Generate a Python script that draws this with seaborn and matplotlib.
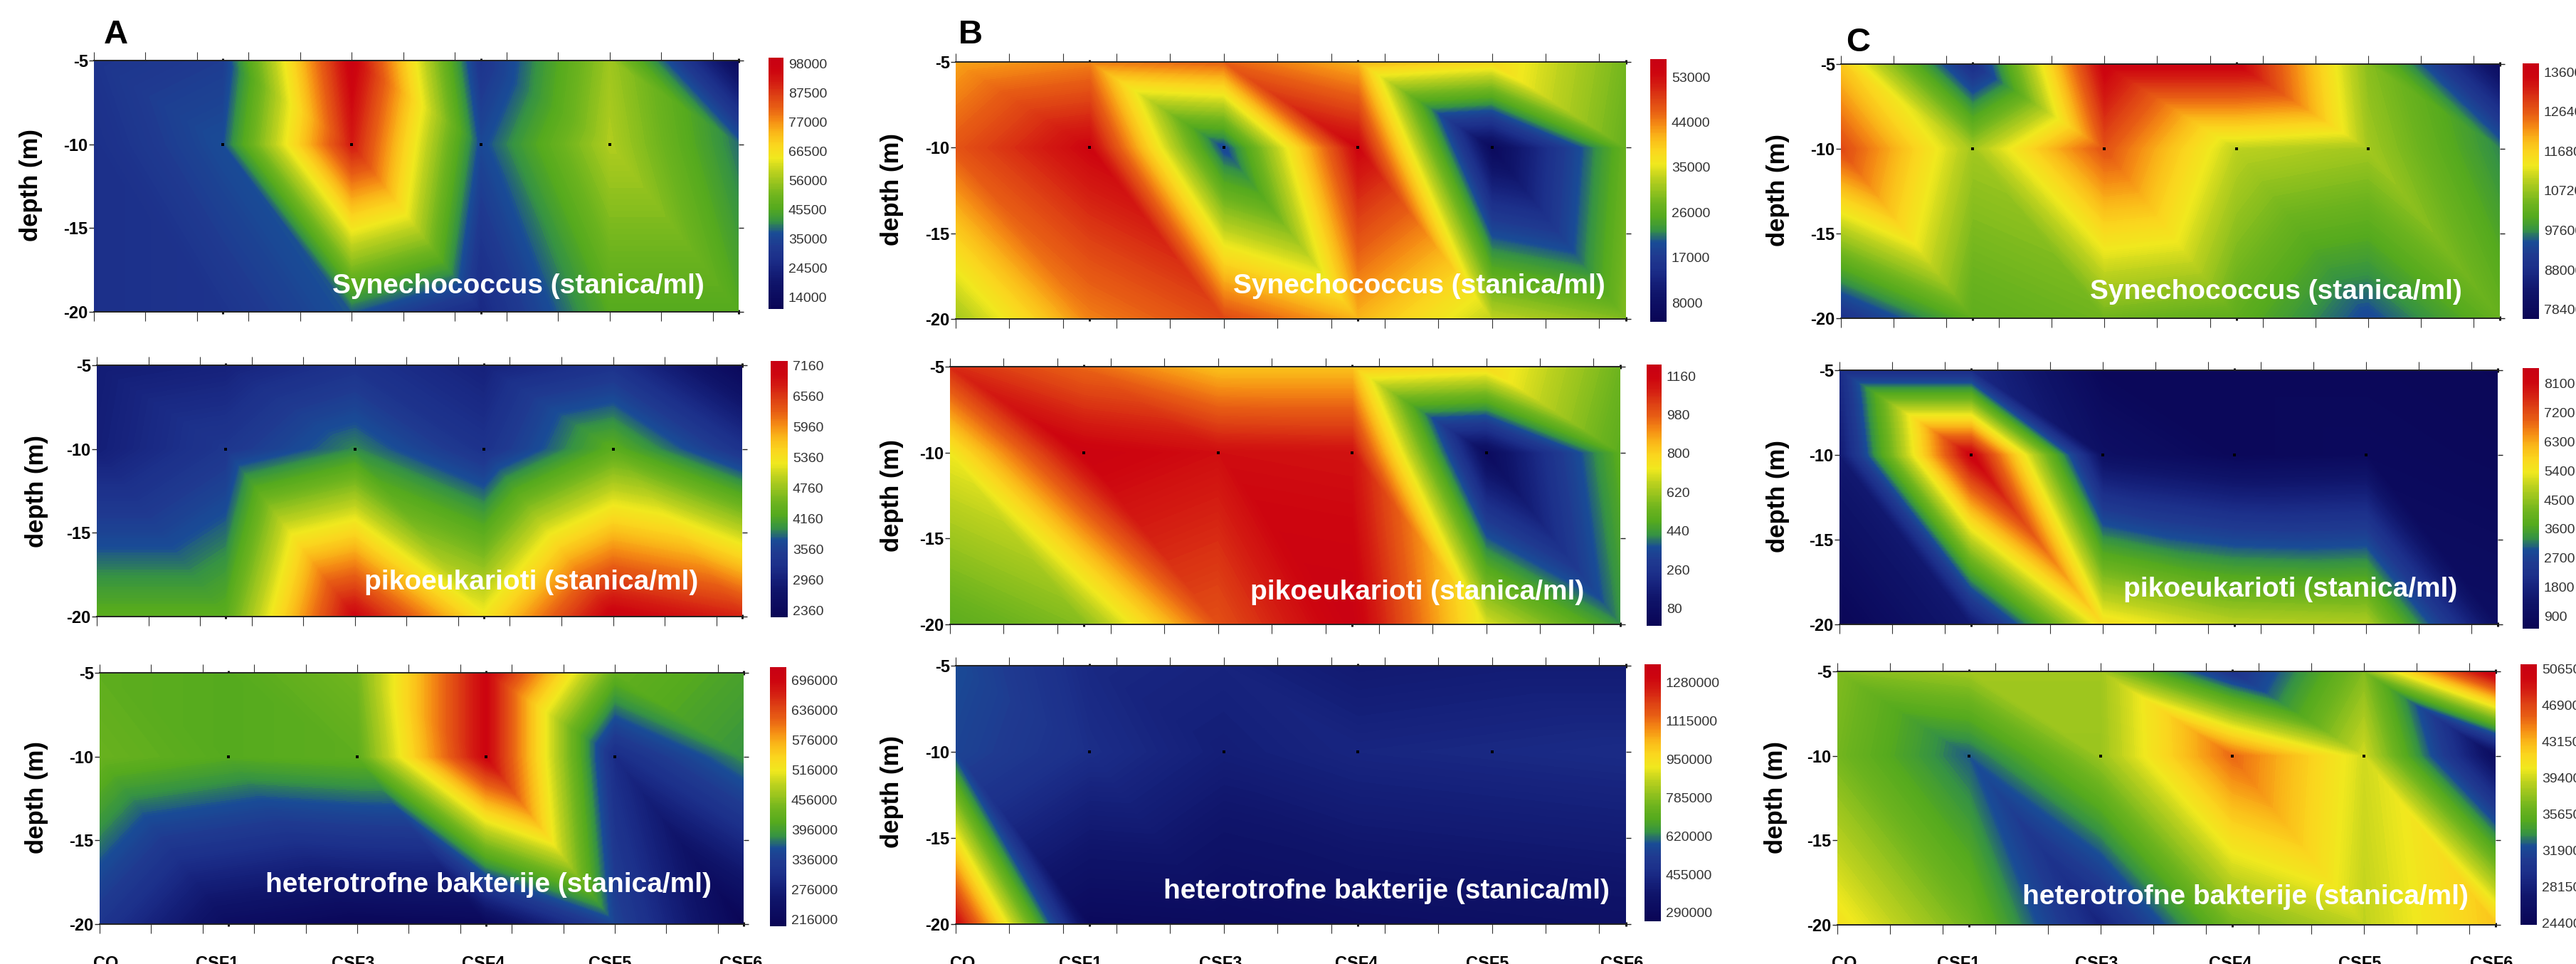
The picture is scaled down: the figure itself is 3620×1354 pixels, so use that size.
import numpy as np
import seaborn as sns
import matplotlib
matplotlib.use("Agg")
import matplotlib.pyplot as plt
from matplotlib.tri import Triangulation

W, H = 3620, 1354

stations = [0, 1, 2, 3, 4, 5]
station_names = ["CO", "CSF1", "CSF3", "CSF4", "CSF5", "CSF6"]
depths = [-5, -10, -20]
depth_ticks = [-5, -10, -15, -20]
sample_x = [1, 2, 3, 4]
sample_depth = [-10, -10, -10, -10]

titles = ["Synechococcus (stanica/ml)", "pikoeukarioti (stanica/ml)",
          "heterotrofne bakterije (stanica/ml)"]

# rows are depths -5, -10, -20, columns are the stations
a_syn = [[30000, 33000, 98000, 30000, 56000, 13000],
         [28000, 37000, 92000, 36000, 58000, 39000],
         [28000, 30000, 38000, 26000, 46000, 46000]]
a_pik = [[2900, 3000, 3300, 3000, 3300, 2350],
         [2950, 3400, 3950, 3300, 4300, 3300],
         [4300, 4300, 7000, 5300, 7100, 6700]]
a_het = [[420000, 410000, 440000, 700000, 425000, 400000],
         [430000, 410000, 420000, 700000, 300000, 385000],
         [320000, 230000, 210000, 215000, 345000, 205000]]

b_syn = [[42000, 44000, 46000, 41000, 38000, 28000],
         [47000, 54000, 19000, 54000, 6000, 27000],
         [31000, 44000, 48000, 41000, 33000, 29000]]
b_pik = [[1070, 960, 830, 830, 780, 540],
         [730, 1170, 1130, 1120, 50, 500],
         [500, 580, 1000, 1190, 700, 420]]
b_het = [[580000, 450000, 430000, 390000, 400000, 400000],
         [560000, 470000, 410000, 440000, 450000, 460000],
         [1300000, 290000, 300000, 320000, 330000, 340000]]

c_syn = [[118000, 88000, 136000, 136000, 106000, 79000],
         [128000, 108000, 127000, 110000, 108000, 97000],
         [89000, 102000, 104000, 102000, 94000, 103000]]
c_pik = [[2000, 2000, 700, 700, 700, 650],
         [1500, 8300, 1100, 700, 800, 700],
         [600, 1500, 5600, 4900, 4800, 1000]]
c_het = [[370000, 380000, 380000, 300000, 370000, 511000],
         [365000, 325000, 378000, 455000, 395000, 255000],
         [410000, 365000, 285000, 365000, 390000, 425000]]

a_syn_ticks = [14000, 24500, 35000, 45500, 56000, 66500, 77000, 87500, 98000]
a_pik_ticks = [2360, 2960, 3560, 4160, 4760, 5360, 5960, 6560, 7160]
a_het_ticks = [216000, 276000, 336000, 396000, 456000, 516000, 576000, 636000, 696000]
b_syn_ticks = [8000, 17000, 26000, 35000, 44000, 53000]
b_pik_ticks = [80, 260, 440, 620, 800, 980, 1160]
b_het_ticks = [290000, 455000, 620000, 785000, 950000, 1115000, 1280000]
c_syn_ticks = [78400, 88000, 97600, 107200, 116800, 126400, 136000]
c_pik_ticks = [900, 1800, 2700, 3600, 4500, 5400, 6300, 7200, 8100]
c_het_ticks = [244000, 281500, 319000, 356500, 394000, 431500, 469000, 506500]

# colorbar ends, they run a bit past the outer tick labels
a_range = [(9900, 100300), (2230, 7244), (201700, 723000)]
b_range = [(4170, 56550), (0, 1213), (253000, 1358000)]
c_range = [(76100, 138100), (510, 8580), (242000, 511400)]

ramp = ["#0a0555", "#0c0c60", "#0f1469", "#15207a", "#1c2f8a", "#1f3a90", "#194b96",
        "#379441", "#55aa1e", "#6eb41e", "#96c31e", "#bed21e", "#f0e81e", "#fad71e",
        "#fab919", "#f58c14", "#e85f14", "#de4114", "#d41e12", "#cd050f", "#c80014"]

sns.set_theme(style="white")
plt.rcParams["font.family"] = ["Liberation Sans", "DejaVu Sans"]
cmap = sns.blend_palette(ramp, n_colors=256, as_cmap=True)


def px_axes(fig, x0, y0, x1, y1):
    return fig.add_axes([x0 / W, 1 - y1 / H, (x1 - x0) / W, (y1 - y0) / H])


def px_text(fig, x, y, s, **kw):
    fig.text(x / W, 1 - y / H, s, **kw)


def make_mesh():
    # every cell is split along the same diagonal, upper left to lower right
    nx, nd = len(stations), len(depths)
    xx, dd = np.meshgrid(stations, depths)
    tris = []
    for j in range(nd - 1):
        for i in range(nx - 1):
            a = j * nx + i
            b = a + 1
            c = a + nx
            d = c + 1
            tris.append([a, b, d])
            tris.append([a, c, d])
    return Triangulation(xx.ravel(), dd.ravel(), tris)


mesh = make_mesh()


def draw_panel(fig, box, cbox, values, crange, ticks):
    ax = px_axes(fig, *box)
    vmin, vmax = crange
    levels = np.linspace(vmin, vmax, 220)
    cf = ax.tricontourf(mesh, np.ravel(values), levels=levels, cmap=cmap)
    ax.scatter(sample_x, sample_depth, marker="s", s=5, color="black", linewidths=0, zorder=5)
    ax.set_xlim(0, 5)
    ax.set_ylim(-20, -5)
    ax.set_xticks(np.arange(0, 5, 0.4))
    ax.set_xticks(stations[1:], minor=True)
    ax.set_xticklabels([])
    ax.set_yticks(depth_ticks)
    ax.set_yticklabels([str(d) for d in depth_ticks], fontsize=17, fontweight="bold", color="black")
    ax.tick_params(axis="x", which="major", top=True, bottom=True, direction="out",
                   length=9, width=0.8, color="#333333")
    ax.tick_params(axis="x", which="minor", top=True, bottom=True, direction="inout",
                   length=4, width=2, color="black")
    ax.tick_params(axis="y", left=True, right=True, direction="out", length=5, width=1,
                   color="#222222", pad=1)
    for side in ["left", "right"]:
        ax.spines[side].set_visible(False)
    for side in ["top", "bottom"]:
        ax.spines[side].set_linewidth(1.4)
        ax.spines[side].set_color("#222222")

    cax = px_axes(fig, *cbox)
    cb = fig.colorbar(cf, cax=cax, ticks=ticks)
    cb.outline.set_visible(False)
    cb.ax.tick_params(length=0, pad=5, labelsize=14, labelcolor="#333333")
    cb.ax.set_yticklabels([str(t) for t in ticks])
    return ax


fig = plt.figure(figsize=(W / 100, H / 100), dpi=100, facecolor="white")

panels = [
    ((132, 85, 1038, 438), (1080, 81, 1101, 434), a_syn, a_range[0], a_syn_ticks, (728, 402), (44, 260), 0),
    ((136, 513, 1043, 866), (1083, 507, 1107, 867), a_pik, a_range[1], a_pik_ticks, (747, 818), (52, 690), 1),
    ((140, 945, 1045, 1298), (1082, 937, 1105, 1301), a_het, a_range[2], a_het_ticks, (686, 1243), (52, 1120), 2),
    ((1343, 87, 2285, 448), (2319, 83, 2342, 452), b_syn, b_range[0], b_syn_ticks, (1994, 402), (1253, 266), 0),
    ((1335, 515, 2277, 877), (2314, 512, 2335, 879), b_pik, b_range[1], b_pik_ticks, (1992, 832), (1253, 696), 1),
    ((1343, 935, 2285, 1298), (2311, 933, 2334, 1294), b_het, b_range[2], b_het_ticks, (1948, 1252), (1253, 1112), 2),
    ((2587, 90, 3513, 447), (3545, 89, 3568, 448), c_syn, c_range[0], c_syn_ticks, (3198, 410), (2498, 267), 0),
    ((2585, 520, 3510, 877), (3545, 517, 3568, 883), c_pik, c_range[1], c_pik_ticks, (3219, 828), (2498, 697), 1),
    ((2582, 943, 3507, 1299), (3542, 933, 3565, 1299), c_het, c_range[2], c_het_ticks, (3155, 1260), (2495, 1120), 2),
]

for box, cbox, values, crange, ticks, title_at, ylabel_at, kind in panels:
    draw_panel(fig, box, cbox, values, crange, ticks)
    px_text(fig, title_at[0], title_at[1], titles[kind], color="white", fontsize=28,
            fontweight="bold", ha="center", va="center", zorder=10)
    px_text(fig, ylabel_at[0], ylabel_at[1], "depth (m)", fontsize=25, fontweight="bold",
            rotation=90, ha="center", va="center", color="black")

for letter, x, y in [("A", 146, 61), ("B", 1347, 61), ("C", 2594, 72)]:
    px_text(fig, x, y, letter, fontsize=34, fontweight="bold", ha="left", va="baseline", color="black")

# station names sit under the last row, hand placed and cut by the page edge
name_x = {"A": [149, 305, 496, 679, 857, 1041],
          "B": [1353, 1518, 1715, 1906, 2090, 2279],
          "C": [2592, 2752, 2946, 3134, 3316, 3501]}
for xs in name_x.values():
    for name, x in zip(station_names, xs):
        px_text(fig, x, 1342, name, fontsize=17, fontweight="bold", ha="center", va="top", color="black")

fig.savefig("out.png", dpi=100, facecolor="white")
